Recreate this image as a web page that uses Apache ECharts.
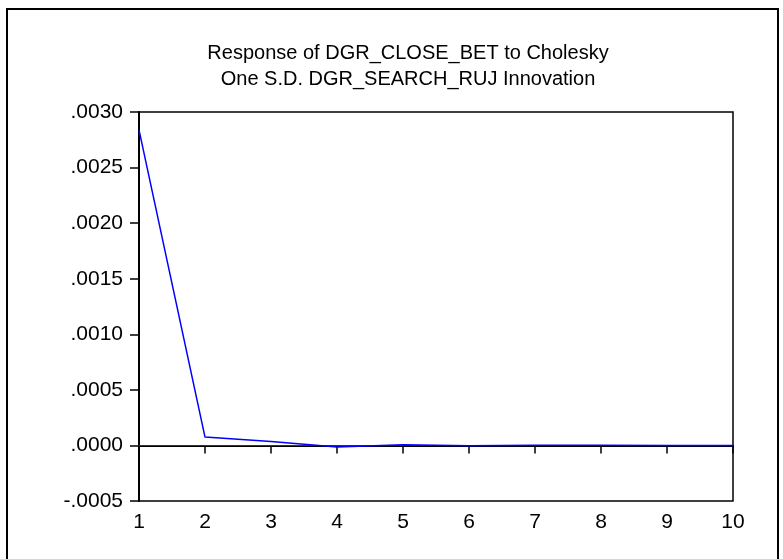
<!DOCTYPE html>
<html>
<head>
<meta charset="utf-8">
<script src="https://cdn.jsdelivr.net/npm/echarts@6/dist/echarts.min.js"></script>
<style>
  html, body { margin: 0; padding: 0; background: #fff; }
  #chart { width: 783px; height: 559px; }
</style>
</head>
<body>
<div id="chart"></div>
<script>
// 脉冲响应数据
var periods = ['1', '2', '3', '4', '5', '6', '7', '8', '9', '10'];
var responseValues = [0.00284, 0.000075, 0.000035, -0.000015, 0.000005, -0.000003, 0.000002, 0.000001, 0.0, 0.0];
var titleLines = ['Response of DGR_CLOSE_BET to Cholesky', 'One S.D. DGR_SEARCH_RUJ Innovation'];
var yTicks = { min: -0.0005, max: 0.003, step: 0.0005 };

var tickFont = 'Liberation Sans, Arial, sans-serif';
var titleFont = 'Liberation Sans, Arial, sans-serif';

var chart = echarts.init(document.getElementById('chart'));

var option = {
  backgroundColor: '#fff',
  animation: false,
  title: {
    text: titleLines.join('\n'),
    left: 403,
    top: 35,
    textAlign: 'center',
    textStyle: {
      fontSize: 20,
      fontWeight: 'normal',
      color: '#000',
      lineHeight: 26,
      fontFamily: titleFont
    }
  },
  // 外框
  graphic: [{
    type: 'rect',
    shape: { x: 7, y: 9, width: 771, height: 600 },
    style: { fill: 'none', stroke: '#000', lineWidth: 2 },
    silent: true
  }],
  grid: {
    left: 139,
    right: 50,
    top: 112,
    bottom: 58,
    show: true,
    borderColor: '#000',
    borderWidth: 1.5
  },
  xAxis: {
    type: 'category',
    data: periods,
    boundaryGap: false,
    axisLine: { lineStyle: { color: '#000', width: 2 } },
    axisTick: { show: true, inside: false, length: 8, lineStyle: { color: '#000', width: 1.5 } },
    axisLabel: { color: '#000', fontSize: 21, margin: 11, fontFamily: tickFont },
    splitLine: { show: false }
  },
  yAxis: {
    type: 'value',
    min: yTicks.min,
    max: yTicks.max,
    interval: yTicks.step,
    axisLine: { show: true, lineStyle: { color: '#000', width: 2 } },
    axisTick: { show: true, inside: false, length: 9, lineStyle: { color: '#000', width: 1.5 } },
    axisLabel: {
      color: '#000',
      fontSize: 21,
      margin: 16,
      fontFamily: tickFont,
      formatter: function (v) {
        var s = (Math.round(v * 10000) / 10000).toFixed(4);
        return s.replace('0.', '.');
      }
    },
    splitLine: { show: false }
  },
  series: [{
    type: 'line',
    data: responseValues,
    symbol: 'none',
    lineStyle: { color: '#0000ff', width: 1.5 },
    z: 3,
    markLine: {
      silent: true,
      symbol: ['none', 'none'],
      label: { show: false },
      lineStyle: { color: '#333', width: 1, type: 'solid' },
      data: [{ yAxis: 0 }],
      z: 2
    }
  }]
};

chart.setOption(option);
</script>
</body>
</html>
